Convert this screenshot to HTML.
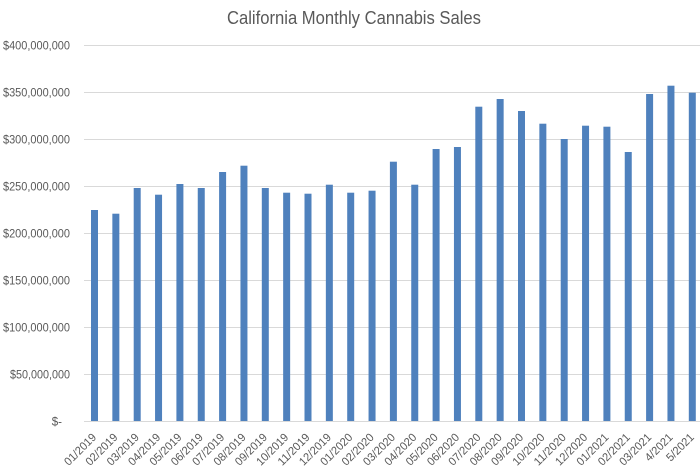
<!DOCTYPE html>
<html>
<head>
<meta charset="utf-8">
<style>
  html,body{margin:0;padding:0;background:#fff;}
  svg{display:block;}
  text{font-family:"Liberation Sans",sans-serif;fill:#595959;}
</style>
</head>
<body>
<svg width="700" height="467" viewBox="0 0 700 467" xmlns="http://www.w3.org/2000/svg">
  <rect x="0" y="0" width="700" height="467" fill="#fff"/>
  <text x="354" y="24" font-size="18" text-anchor="middle" textLength="254" lengthAdjust="spacingAndGlyphs">California Monthly Cannabis Sales</text>

  <g stroke="#d9d9d9" stroke-width="1">
    <line x1="84" y1="45.5" x2="700" y2="45.5"/>
    <line x1="84" y1="92.5" x2="700" y2="92.5"/>
    <line x1="84" y1="139.5" x2="700" y2="139.5"/>
    <line x1="84" y1="186.5" x2="700" y2="186.5"/>
    <line x1="84" y1="233.5" x2="700" y2="233.5"/>
    <line x1="84" y1="280.5" x2="700" y2="280.5"/>
    <line x1="84" y1="327.5" x2="700" y2="327.5"/>
    <line x1="84" y1="374.5" x2="700" y2="374.5"/>
    <line x1="84" y1="421.5" x2="700" y2="421.5"/>
  </g>

  <g font-size="11.5" text-anchor="end">
    <text x="70" y="49.5" textLength="67" lengthAdjust="spacingAndGlyphs">$400,000,000</text>
    <text x="70" y="96.5" textLength="67" lengthAdjust="spacingAndGlyphs">$350,000,000</text>
    <text x="70" y="143.5" textLength="67" lengthAdjust="spacingAndGlyphs">$300,000,000</text>
    <text x="70" y="190.5" textLength="67" lengthAdjust="spacingAndGlyphs">$250,000,000</text>
    <text x="70" y="237.5" textLength="67" lengthAdjust="spacingAndGlyphs">$200,000,000</text>
    <text x="70" y="284.5" textLength="67" lengthAdjust="spacingAndGlyphs">$150,000,000</text>
    <text x="70" y="331.5" textLength="67" lengthAdjust="spacingAndGlyphs">$100,000,000</text>
    <text x="70" y="378.5" textLength="60" lengthAdjust="spacingAndGlyphs">$50,000,000</text>
    <text x="62" y="425.5">$-</text>
  </g>

  <g fill="#4f81bd">
    <rect x="91.0" y="210.0" width="7" height="211"/>
    <rect x="112.35" y="213.7" width="7" height="207.3"/>
    <rect x="133.7" y="188.0" width="7" height="233"/>
    <rect x="155.05" y="194.7" width="7" height="226.3"/>
    <rect x="176.4" y="184.0" width="7" height="237"/>
    <rect x="197.75" y="188.0" width="7" height="233"/>
    <rect x="219.1" y="172.0" width="7" height="249"/>
    <rect x="240.45" y="165.7" width="7" height="255.3"/>
    <rect x="261.8" y="188.0" width="7" height="233"/>
    <rect x="283.15" y="192.7" width="7" height="228.3"/>
    <rect x="304.5" y="193.7" width="7" height="227.3"/>
    <rect x="325.85" y="184.7" width="7" height="236.3"/>
    <rect x="347.2" y="192.7" width="7" height="228.3"/>
    <rect x="368.55" y="190.7" width="7" height="230.3"/>
    <rect x="389.9" y="161.7" width="7" height="259.3"/>
    <rect x="411.25" y="184.7" width="7" height="236.3"/>
    <rect x="432.6" y="149.0" width="7" height="272"/>
    <rect x="453.95" y="147.0" width="7" height="274"/>
    <rect x="475.3" y="106.7" width="7" height="314.3"/>
    <rect x="496.65" y="99.0" width="7" height="322"/>
    <rect x="518.0" y="111.0" width="7" height="310"/>
    <rect x="539.35" y="123.7" width="7" height="297.3"/>
    <rect x="560.7" y="139.0" width="7" height="282"/>
    <rect x="582.05" y="125.7" width="7" height="295.3"/>
    <rect x="603.4" y="126.7" width="7" height="294.3"/>
    <rect x="624.75" y="152.0" width="7" height="269"/>
    <rect x="646.1" y="94.0" width="7" height="327"/>
    <rect x="667.45" y="85.7" width="7" height="335.3"/>
    <rect x="688.8" y="92.7" width="7" height="328.3"/>
  </g>

  <g font-size="11.5" text-anchor="end">
    <text transform="translate(97,438) rotate(-45)" textLength="40" lengthAdjust="spacingAndGlyphs">01/2019</text>
    <text transform="translate(118.35,438) rotate(-45)" textLength="40" lengthAdjust="spacingAndGlyphs">02/2019</text>
    <text transform="translate(139.7,438) rotate(-45)" textLength="40" lengthAdjust="spacingAndGlyphs">03/2019</text>
    <text transform="translate(161.05,438) rotate(-45)" textLength="40" lengthAdjust="spacingAndGlyphs">04/2019</text>
    <text transform="translate(182.4,438) rotate(-45)" textLength="40" lengthAdjust="spacingAndGlyphs">05/2019</text>
    <text transform="translate(203.75,438) rotate(-45)" textLength="40" lengthAdjust="spacingAndGlyphs">06/2019</text>
    <text transform="translate(225.1,438) rotate(-45)" textLength="40" lengthAdjust="spacingAndGlyphs">07/2019</text>
    <text transform="translate(246.45,438) rotate(-45)" textLength="40" lengthAdjust="spacingAndGlyphs">08/2019</text>
    <text transform="translate(267.8,438) rotate(-45)" textLength="40" lengthAdjust="spacingAndGlyphs">09/2019</text>
    <text transform="translate(289.15,438) rotate(-45)" textLength="40" lengthAdjust="spacingAndGlyphs">10/2019</text>
    <text transform="translate(310.5,438) rotate(-45)" textLength="40" lengthAdjust="spacingAndGlyphs">11/2019</text>
    <text transform="translate(331.85,438) rotate(-45)" textLength="40" lengthAdjust="spacingAndGlyphs">12/2019</text>
    <text transform="translate(353.2,438) rotate(-45)" textLength="40" lengthAdjust="spacingAndGlyphs">01/2020</text>
    <text transform="translate(374.55,438) rotate(-45)" textLength="40" lengthAdjust="spacingAndGlyphs">02/2020</text>
    <text transform="translate(395.9,438) rotate(-45)" textLength="40" lengthAdjust="spacingAndGlyphs">03/2020</text>
    <text transform="translate(417.25,438) rotate(-45)" textLength="40" lengthAdjust="spacingAndGlyphs">04/2020</text>
    <text transform="translate(438.6,438) rotate(-45)" textLength="40" lengthAdjust="spacingAndGlyphs">05/2020</text>
    <text transform="translate(459.95,438) rotate(-45)" textLength="40" lengthAdjust="spacingAndGlyphs">06/2020</text>
    <text transform="translate(481.3,438) rotate(-45)" textLength="40" lengthAdjust="spacingAndGlyphs">07/2020</text>
    <text transform="translate(502.65,438) rotate(-45)" textLength="40" lengthAdjust="spacingAndGlyphs">08/2020</text>
    <text transform="translate(524.0,438) rotate(-45)" textLength="40" lengthAdjust="spacingAndGlyphs">09/2020</text>
    <text transform="translate(545.35,438) rotate(-45)" textLength="40" lengthAdjust="spacingAndGlyphs">10/2020</text>
    <text transform="translate(566.7,438) rotate(-45)" textLength="40" lengthAdjust="spacingAndGlyphs">11/2020</text>
    <text transform="translate(588.05,438) rotate(-45)" textLength="40" lengthAdjust="spacingAndGlyphs">12/2020</text>
    <text transform="translate(609.4,438) rotate(-45)" textLength="40" lengthAdjust="spacingAndGlyphs">01/2021</text>
    <text transform="translate(630.75,438) rotate(-45)" textLength="40" lengthAdjust="spacingAndGlyphs">02/2021</text>
    <text transform="translate(652.1,438) rotate(-45)" textLength="40" lengthAdjust="spacingAndGlyphs">03/2021</text>
    <text transform="translate(673.45,438) rotate(-45)" textLength="34" lengthAdjust="spacingAndGlyphs">4/2021</text>
    <text transform="translate(694.8,438) rotate(-45)" textLength="34" lengthAdjust="spacingAndGlyphs">5/2021</text>
  </g>
</svg>
</body>
</html>
